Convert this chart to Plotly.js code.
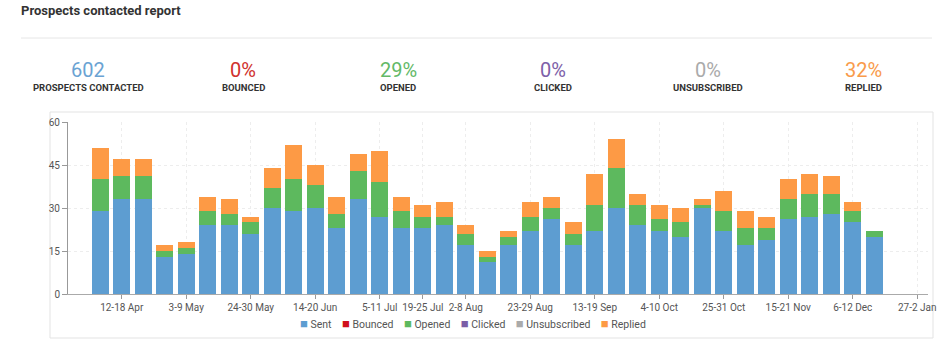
<!DOCTYPE html>
<html>
<head>
<meta charset="utf-8">
<script src="https://cdn.plot.ly/plotly-3.0.1.min.js"></script>
<style>
html,body{margin:0;padding:0;background:#fff;}
#chart{width:949px;height:349px;}
</style>
</head>
<body>
<div id="chart"></div>
<script>
// ---- data ----
const weeks = ['29-4 Apr','5-11 Apr','12-18 Apr','19-25 Apr','26-2 May','3-9 May','10-16 May','17-23 May','24-30 May','31-6 Jun',
  '7-13 Jun','14-20 Jun','21-27 Jun','28-4 Jul','5-11 Jul','12-18 Jul','19-25 Jul','26-1 Aug','2-8 Aug','9-15 Aug',
  '16-22 Aug','23-29 Aug','30-5 Sep','6-12 Sep','13-19 Sep','20-26 Sep','27-3 Oct','4-10 Oct','11-17 Oct','18-24 Oct',
  '25-31 Oct','1-7 Nov','8-14 Nov','15-21 Nov','22-28 Nov','29-5 Dec','6-12 Dec','13-19 Dec','20-26 Dec','27-2 Jan'];
const sent =         [0,29,33,33,13,14,24,24,21,30, 29,30,23,33,27,23,23,24,17,11, 17,22,26,17,22,30,24,22,20,30, 22,17,19,26,27,28,25,20,0,0];
const bounced =      [0,0,0,0,0,0,0,0,0,0, 0,0,0,0,0,0,0,0,0,0, 0,0,0,0,0,0,0,0,0,0, 0,0,0,0,0,0,0,0,0,0];
const opened =       [0,11,8,8,2,2,5,4,4,7, 11,8,5,10,12,6,4,3,4,2, 3,5,4,4,9,14,7,4,5,1, 7,6,4,7,8,7,4,2,0,0];
const clicked =      [0,0,0,0,0,0,0,0,0,0, 0,0,0,0,0,0,0,0,0,0, 0,0,0,0,0,0,0,0,0,0, 0,0,0,0,0,0,0,0,0,0];
const unsubscribed = [0,0,0,0,0,0,0,0,0,0, 0,0,0,0,0,0,0,0,0,0, 0,0,0,0,0,0,0,0,0,0, 0,0,0,0,0,0,0,0,0,0];
const replied =      [0,11,6,6,2,2,5,5,2,7, 12,7,6,6,11,5,4,5,3,2, 2,5,4,4,11,10,4,5,5,2, 7,6,4,7,7,6,3,0,0,0];
const tickLabels = ['12-18 Apr','3-9 May','24-30 May','14-20 Jun','5-11 Jul','19-25 Jul','2-8 Aug','23-29 Aug',
  '13-19 Sep','4-10 Oct','25-31 Oct','15-21 Nov','6-12 Dec','27-2 Jan'];
const yTicks = [0,15,30,45,60];
const seriesNames = ['Sent','Bounced','Opened','Clicked','Unsubscribed','Replied'];
const statValues = ['602','0%','29%','0%','0%','32%'];
const statLabels = ['PROSPECTS CONTACTED','BOUNCED','OPENED','CLICKED','UNSUBSCRIBED','REPLIED'];

// ---- styles ----
const seriesColors = ['#5d9dd1','#d0101b','#5db95e','#7b5ea7','#aaaaaa','#fd9a45'];
const statColors = ['#6aa3d3','#d0312d','#63b967','#7d60a8','#aaaaaa','#f99b4b'];
const FONT = 'Roboto, "Noto Sans", Arial, sans-serif';

const W = 949, H = 349, ML = 68, MR = 21, MT = 122, MB = 55;
const PW = W - ML - MR, PH = H - MT - MB;
const px = x => (x - ML) / PW;
const py = y => (H - MB - y) / PH;

const seriesData = [sent, bounced, opened, clicked, unsubscribed, replied];
const traces = seriesNames.map((n, i) => ({
  type: 'bar', name: n, x: weeks, y: seriesData[i],
  marker: {color: seriesColors[i]},
  hovertemplate: '%{x}<br>' + n + ': %{y}<extra></extra>'
}));

const annotations = [];
const colCenters = [88, 243, 398, 553, 708, 863];
statValues.forEach((v, i) => {
  annotations.push({xref:'paper', yref:'paper', x: px(colCenters[i]), y: py(70), xanchor:'center', yanchor:'middle',
    text: v, showarrow:false, font:{family:FONT, size:20, color: statColors[i]}});
  annotations.push({xref:'paper', yref:'paper', x: px(colCenters[i]), y: py(87), xanchor:'center', yanchor:'middle',
    text: '<b>' + statLabels[i] + '</b>', showarrow:false, font:{family:FONT, size:9.5, color:'#333'}});
});
// legend built from series names / colours
const legendText = seriesNames.map((n, i) =>
  '<span style="color:' + seriesColors[i] + ';font-size:13px">\u25A0</span>\u00a0' + n).join('\u00a0\u00a0\u00a0\u00a0');
annotations.push({xref:'paper', yref:'paper', x: px(473), y: py(323), xanchor:'center', yanchor:'middle',
  text: legendText, showarrow:false, font:{family:FONT, size:10.5, color:'#555'}});

const shapes = [
  {type:'line', xref:'paper', yref:'paper', x0: px(21), x1: px(932), y0: py(38), y1: py(38), line:{color:'#e6e6e6', width:1}},
  {type:'rect', xref:'paper', yref:'paper', x0: px(50), x1: px(933), y0: py(338), y1: py(112), line:{color:'#e3e3e3', width:1}, layer:'below'}
];

const layout = {
  width: W, height: H,
  margin: {l: ML, r: MR, t: MT, b: MB, pad: 0},
  paper_bgcolor: '#fff', plot_bgcolor: '#fff',
  font: {family: FONT, size: 10, color: '#555'},
  title: {text: '<b>Prospects contacted report</b>', font: {family: FONT, size: 13, color: '#333'},
    x: 21 / W, xref: 'container', xanchor: 'left', y: 1 - 10 / H, yref: 'container', yanchor: 'middle'},
  barmode: 'stack', bargap: 0.23,
  showlegend: false,
  xaxis: {type: 'category', range: [-0.5, weeks.length - 0.5], tickmode: 'array', tickvals: tickLabels, ticktext: tickLabels,
    ticks: 'outside', ticklen: 4, tickcolor: '#999', showgrid: true, gridcolor: '#ededed', griddash: 'dot',
    showline: true, linecolor: '#aaa', linewidth: 1, tickfont: {family: FONT, size: 10, color: '#555'}, zeroline: false},
  yaxis: {range: [0, 60], tickmode: 'array', tickvals: yTicks, ticks: 'outside', ticklen: 5, tickcolor: '#999',
    showgrid: true, gridcolor: '#ededed', griddash: 'dot', showline: true, linecolor: '#999', linewidth: 1,
    zeroline: false, tickfont: {family: FONT, size: 10, color: '#555'}},
  annotations: annotations,
  shapes: shapes
};

Plotly.newPlot('chart', traces, layout, {displayModeBar: false, responsive: false});
</script>
</body>
</html>
